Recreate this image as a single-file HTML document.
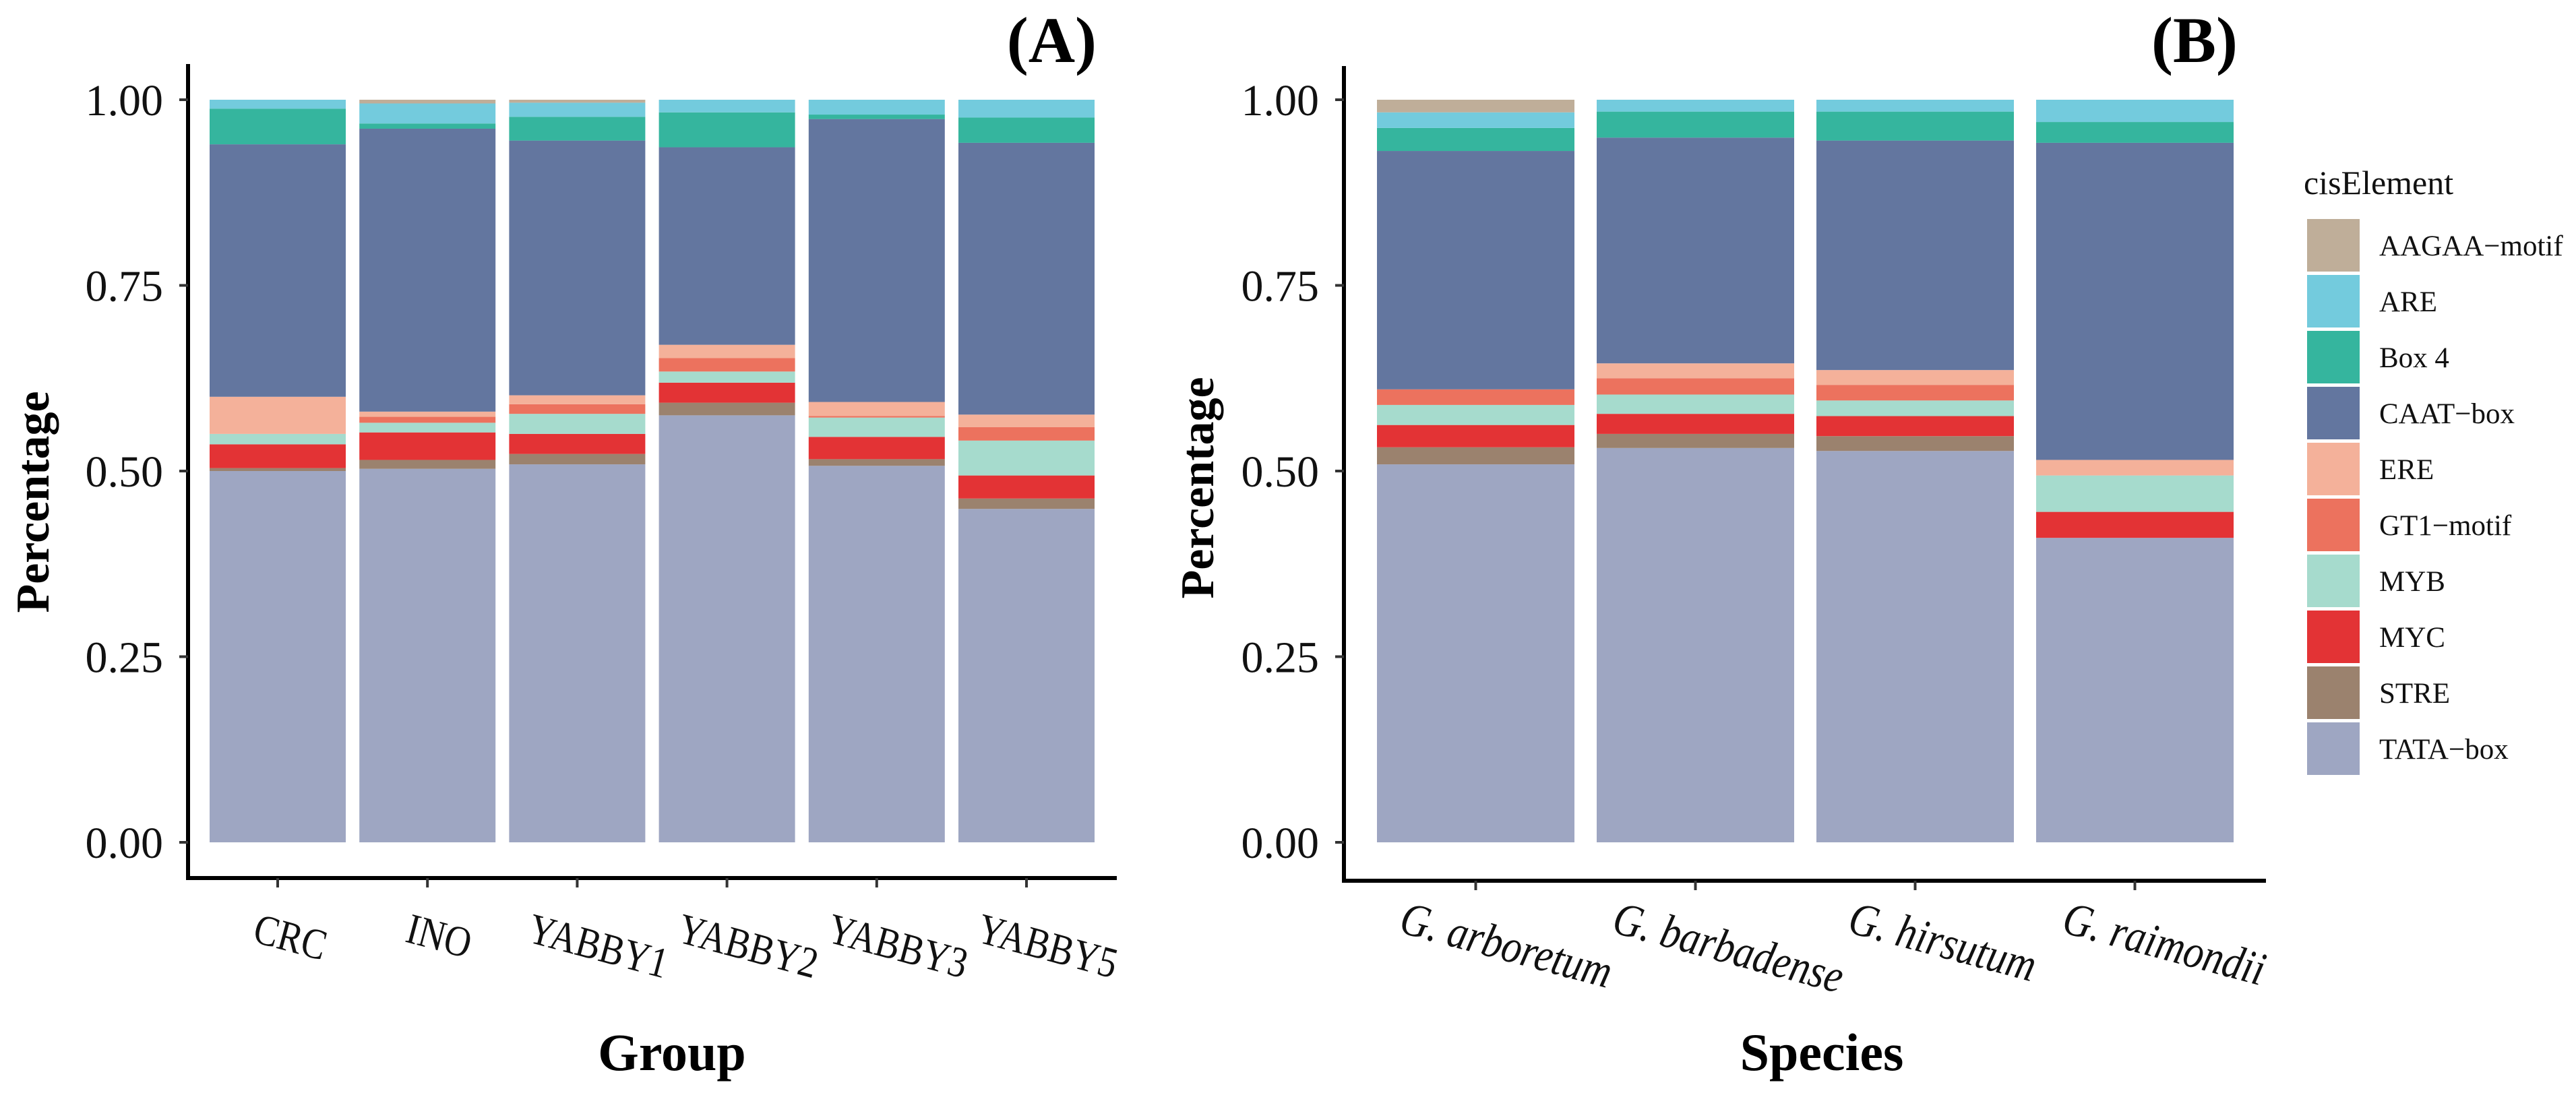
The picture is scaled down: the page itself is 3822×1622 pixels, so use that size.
<!DOCTYPE html>
<html><head><meta charset="utf-8"><style>
html,body{margin:0;padding:0;background:#fff;}
svg{display:block;font-family:"Liberation Serif","Times New Roman",serif;}
</style></head><body>
<svg id="chart" width="3822" height="1622" viewBox="0 0 3822 1622" xmlns="http://www.w3.org/2000/svg">
<rect width="3822" height="1622" fill="#fff"/>
<g id="panelA"></g>
<g id="panelB"></g>
<g id="legend"></g>
</svg>
<script>
// stack order bottom -> top
const elements = ["TATA-box","STRE","MYC","MYB","GT1-motif","ERE","CAAT-box","Box 4","ARE","AAGAA-motif"];
const legendLabels = ["AAGAA\u2212motif","ARE","Box 4","CAAT\u2212box","ERE","GT1\u2212motif","MYB","MYC","STRE","TATA\u2212box"];
const colors = {"TATA-box":"#9EA6C2","STRE":"#9B826E","MYC":"#E33335","MYB":"#A6DBCD","GT1-motif":"#EC725E","ERE":"#F4B19A","CAAT-box":"#63769F","Box 4":"#35B59E","ARE":"#73CBDD","AAGAA-motif":"#BFAE99"};
const groupsA = ["CRC","INO","YABBY1","YABBY2","YABBY3","YABBY5"];
const valsCRC    = [0.500,0.004,0.032,0.014,0.000,0.050,0.340,0.048,0.012,0.000];
const valsINO    = [0.503,0.012,0.037,0.013,0.008,0.007,0.381,0.007,0.027,0.005];
const valsYABBY1 = [0.509,0.014,0.027,0.027,0.013,0.012,0.343,0.032,0.019,0.004];
const valsYABBY2 = [0.575,0.017,0.027,0.015,0.018,0.018,0.266,0.047,0.017,0.000];
const valsYABBY3 = [0.507,0.009,0.030,0.026,0.002,0.019,0.381,0.006,0.020,0.000];
const valsYABBY5 = [0.449,0.014,0.031,0.047,0.018,0.017,0.366,0.034,0.024,0.000];
const seriesA = [valsCRC,valsINO,valsYABBY1,valsYABBY2,valsYABBY3,valsYABBY5];
const groupsB = ["G. arboretum","G. barbadense","G. hirsutum","G. raimondii"];
const valsArb = [0.509,0.023,0.030,0.027,0.021,0.000,0.321,0.031,0.021,0.017];
const valsBar = [0.531,0.019,0.027,0.026,0.022,0.020,0.304,0.035,0.016,0.000];
const valsHir = [0.527,0.020,0.027,0.021,0.021,0.020,0.309,0.039,0.016,0.000];
const valsRai = [0.410,0.000,0.035,0.049,0.000,0.021,0.427,0.028,0.030,0.000];
const seriesB = [valsArb,valsBar,valsHir,valsRai];
const yTicks = [0,0.25,0.5,0.75,1];
const yTickLabels = ["0.00","0.25","0.50","0.75","1.00"];

const NS="http://www.w3.org/2000/svg";
function mk(parent,tag,attrs,text){const e=document.createElementNS(NS,tag);for(const k in attrs)e.setAttribute(k,attrs[k]);if(text!==undefined)e.textContent=text;parent.appendChild(e);return e;}

const y0=1250, y1=148;
function yScale(v){return y0-(y0-y1)*v;}

function drawPanel(g,cfg){
  const {axisX,axisTop,axisBottom,axisRight,barStart,pitch,barW,groups,series,labelFont,italic,labelBase,title,titleX,ylabX,ylabY,tag,tagX} = cfg;
  series.forEach((vals,i)=>{
    const x=barStart+i*pitch;
    let cum=0;
    vals.forEach((v,j)=>{
      if(v<=0) return;
      const r=mk(g,'rect',{x:x,y:yScale(cum+v),width:barW,height:yScale(cum)-yScale(cum+v),fill:colors[elements[j]]});
      
      
      cum+=v;
    });
  });
  const ax=mk(g,'line',{x1:axisX,y1:axisTop,x2:axisX,y2:axisBottom+3,stroke:'#000','stroke-width':6});
  
  
  const bx=mk(g,'line',{x1:axisX-3,y1:axisBottom,x2:axisRight,y2:axisBottom,stroke:'#000','stroke-width':6});
  
  
  yTicks.forEach((t,k)=>{
    const tl=mk(g,'line',{x1:axisX-13,y1:yScale(t),x2:axisX,y2:yScale(t),stroke:'#333','stroke-width':4});
    
    
    const tx=mk(g,'text',{x:axisX-37,y:yScale(t)+23,'font-size':66,'text-anchor':'end',fill:'#111'},yTickLabels[k]);
    
    
  });
  groups.forEach((name,i)=>{
    const cx=barStart+i*pitch+barW/2;
    const tl=mk(g,'line',{x1:cx,y1:axisBottom,x2:cx,y2:axisBottom+14,stroke:'#333','stroke-width':4});
    
    
    const t=mk(g,'text',{x:0,y:0,'font-size':labelFont,fill:'#111'},name);
    if(italic) t.setAttribute('font-style','italic');
    
    
    const len=t.getComputedTextLength()*0.85;
    const sx=cx-0.36*len;
    t.setAttribute('transform','translate('+sx+' '+labelBase+') rotate(15) scale(0.85 1)');
  });
  const xt=mk(g,'text',{x:titleX,y:1588,'font-size':78,'font-weight':'bold','text-anchor':'middle',fill:'#000'},title);
  
  
  const yt=mk(g,'text',{x:ylabX,y:ylabY,'font-size':70,'font-weight':'bold','text-anchor':'middle',fill:'#000',transform:'rotate(-90 '+ylabX+' '+ylabY+')'},'Percentage');
  
  
  const tg=mk(g,'text',{x:tagX,y:92,'font-size':96,'font-weight':'bold','text-anchor':'end',fill:'#000'},tag);
  
  
}

drawPanel(document.getElementById('panelA'),{axisX:279,axisTop:95,axisBottom:1303,axisRight:1657,barStart:311,pitch:222.2,barW:202,groups:groupsA,series:seriesA,labelFont:64,italic:false,labelBase:1397,title:'Group',titleX:997,ylabX:72,ylabY:745,tag:'(A)',tagX:1627});
drawPanel(document.getElementById('panelB'),{axisX:1994,axisTop:98,axisBottom:1307,axisRight:3362,barStart:2043,pitch:326,barW:293,groups:groupsB,series:seriesB,labelFont:70,italic:true,labelBase:1383,title:'Species',titleX:2703,ylabX:1800,ylabY:724,tag:'(B)',tagX:3320});

const lg=document.getElementById('legend');
const lt=mk(lg,'text',{x:3418,y:288,'font-size':50,fill:'#111'},'cisElement');


const legendKeys=["AAGAA-motif","ARE","Box 4","CAAT-box","ERE","GT1-motif","MYB","MYC","STRE","TATA-box"];
legendKeys.forEach((k,i)=>{
  const y=325+i*83;
  const r=mk(lg,'rect',{x:3423,y:y,width:78,height:78,fill:colors[k]});
  
  
  const t=mk(lg,'text',{x:3530,y:y+54,'font-size':43,fill:'#111'},legendLabels[i]);
  
  
});
</script>
</body></html>
